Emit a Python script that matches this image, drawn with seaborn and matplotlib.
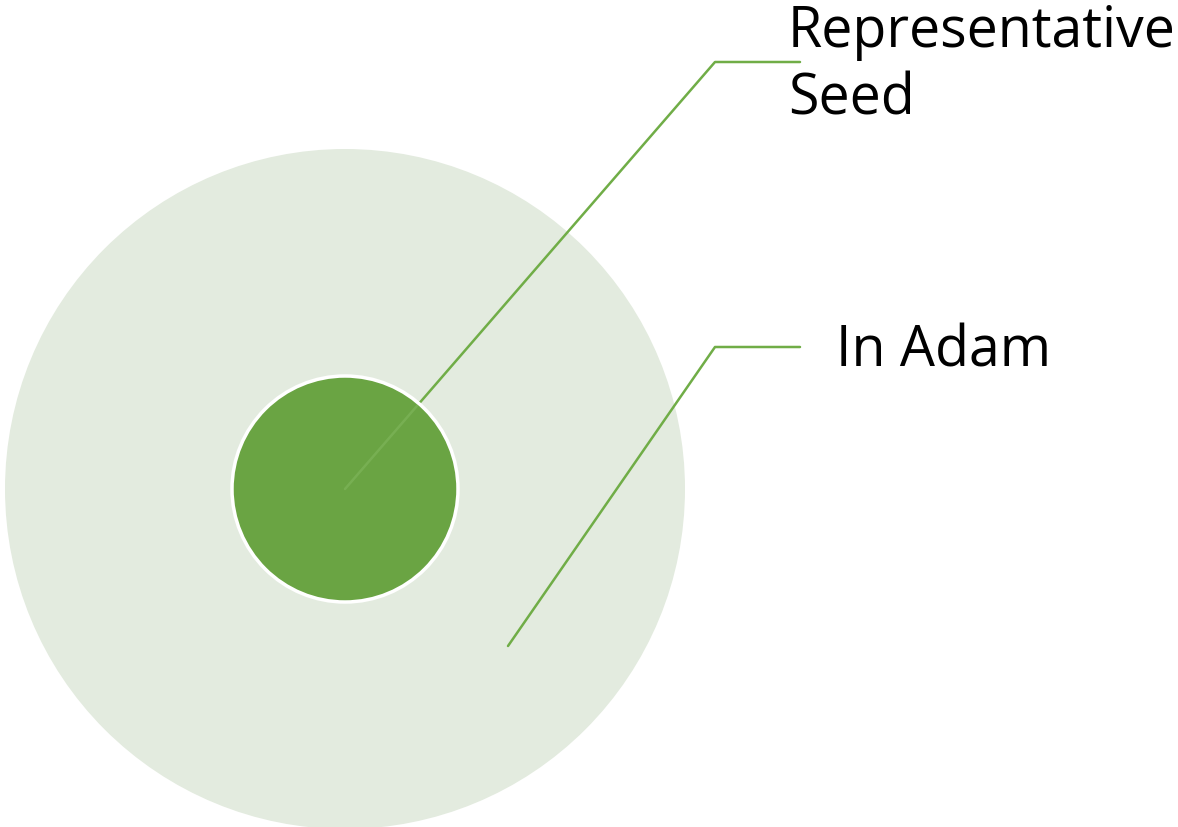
import matplotlib
matplotlib.use("Agg")
import matplotlib.pyplot as plt
from matplotlib.patches import Circle
import seaborn as sns
import pandas as pd

# Data
labels = ["Representative\nSeed", "In Adam"]
circle_radius = [113, 340]
callout1_x = [345, 715, 800]
callout1_y = [490, 63, 63]
callout2_x = [508, 715, 800]
callout2_y = [647, 348, 348]

sns.set_theme(style="white")
plt.rcParams['font.family'] = ['Open Sans', 'DejaVu Sans']

fig = plt.figure(figsize=(11.78, 8.28), dpi=100)
ax = fig.add_axes([0, 0, 1, 1])
ax.set_xlim(0, 1178)
ax.set_ylim(828, 0)
ax.set_aspect('equal')
ax.axis('off')

cx, cy = 345, 490
ax.add_patch(Circle((cx, cy), circle_radius[1], facecolor="#E3EBDF", edgecolor="none", zorder=1))

d1 = pd.DataFrame({"x": callout1_x, "y": callout1_y})
d2 = pd.DataFrame({"x": callout2_x, "y": callout2_y})
sns.lineplot(data=d1, x="x", y="y", sort=False, color="#70AD47", lw=1.8, ax=ax, zorder=2)
sns.lineplot(data=d2, x="x", y="y", sort=False, color="#70AD47", lw=1.8, ax=ax, zorder=2)

inner = Circle((cx, cy), circle_radius[0], facecolor="#6AA443", edgecolor="white", lw=2.5, zorder=3)
ax.add_patch(inner)

# faint part of the callout inside the small circle
n_before = len(ax.lines)
sns.lineplot(data=d1, x="x", y="y", sort=False, color="#8CC06A", lw=1.8, alpha=0.4, ax=ax, zorder=4)
clip = Circle((cx, cy), circle_radius[0] - 2, transform=ax.transData)
for ln in ax.lines[n_before:]:
    ln.set_clip_path(clip)

ax.text(788, 66, labels[0], fontsize=40, va="center", ha="left", color="black", linespacing=1.25)
ax.text(836, 352, labels[1], fontsize=40, va="center", ha="left", color="black")
ax.set_xlabel("")
ax.set_ylabel("")

fig.savefig("out.png", dpi=100)
